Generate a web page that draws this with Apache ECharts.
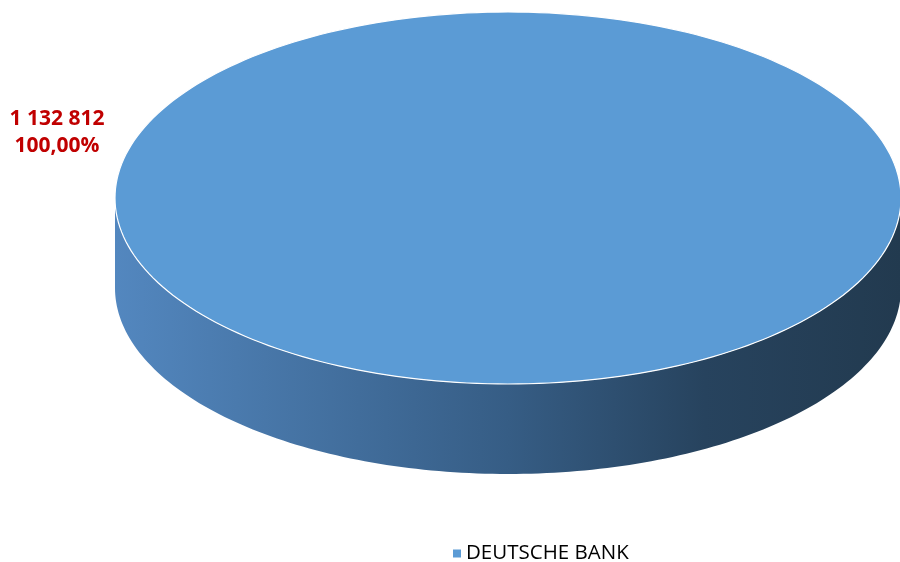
<!DOCTYPE html>
<html>
<head>
<meta charset="utf-8">
<script src="https://cdn.jsdelivr.net/npm/echarts@6/dist/echarts.min.js"></script>
<style>html,body{margin:0;padding:0;background:#fff}#c{width:900px;height:562px}</style>
</head>
<body>
<div id="c"></div>
<script>
const categories = ['DEUTSCHE BANK'];
const values = [1132812];

const total = values.reduce((a, b) => a + b, 0);
function fmtNum(v) { return String(v).replace(/\B(?=(\d{3})+(?!\d))/g, ' '); }
function fmtPct(v) { return (v / total * 100).toFixed(2).replace('.', ',') + '%'; }

const chart = echarts.init(document.getElementById('c'));
const cx = 508, cy = 198, rx = 393, ry = 186, depth = 90;

function ellipsePts(t0, t1, dy, n) {
  const pts = [];
  for (let i = 0; i <= n; i++) {
    const t = t0 + (t1 - t0) * i / n;
    pts.push([cx + rx * Math.cos(t), cy + dy + ry * Math.sin(t)]);
  }
  return pts;
}

chart.setOption({
  animation: false,
  legend: {
    data: [{ name: categories[0], icon: 'rect' }],
    left: 448, top: 538,
    itemWidth: 8, itemHeight: 8, itemGap: 7,
    textStyle: { fontFamily: 'Open Sans', fontSize: 20.5, color: '#000' }
  },
  series: [{
    type: 'custom',
    name: categories[0],
    coordinateSystem: 'none',
    itemStyle: { color: '#5B9BD5' },
    data: values.map((v, i) => [i, v]),
    renderItem: function (params, api) {
      const v = api.value(1);
      const span = v / total * Math.PI * 2;
      const top = ellipsePts(0, span, 0, 240);
      const sideTop = ellipsePts(0, Math.PI, 0, 160);
      const sideBot = ellipsePts(Math.PI, 0, depth, 160);
      return {
        type: 'group',
        children: [
          {
            type: 'polygon',
            shape: { points: sideTop.concat(sideBot) },
            style: {
              fill: new echarts.graphic.LinearGradient(0, 0, 1, 0, [
                { offset: 0, color: '#5387BF' },
                { offset: 0.5, color: '#365D85' },
                { offset: 0.75, color: '#27435E' },
                { offset: 1, color: '#223A4F' }
              ])
            }
          },
          {
            type: 'polygon',
            shape: { points: top },
            style: { fill: '#5B9BD5', stroke: '#ffffff', lineWidth: 1.2 }
          },
          {
            type: 'text',
            style: {
              x: 57, y: 106,
              text: fmtNum(v) + '\n' + fmtPct(v),
              align: 'center', verticalAlign: 'top',
              fontFamily: 'Open Sans', fontWeight: 'bold', fontSize: 21,
              lineHeight: 27, fill: '#C00000'
            }
          }
        ]
      };
    }
  }]
});
</script>
</body>
</html>
